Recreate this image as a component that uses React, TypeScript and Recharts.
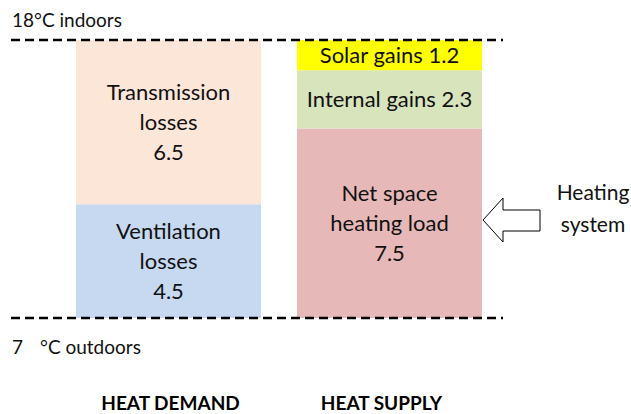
import React from 'react';
import { BarChart, Bar, XAxis, YAxis, ReferenceLine, LabelList } from 'recharts';

const categories = ['HEAT DEMAND', 'HEAT SUPPLY'];
const ventilationLosses = [4.5, 0];
const transmissionLosses = [6.5, 0];
const netHeatingLoad = [0, 7.5];
const internalGains = [0, 2.3];
const solarGains = [0, 1.2];

const data = categories.map((name, i) => ({
  name,
  ventilation: ventilationLosses[i],
  transmission: transmissionLosses[i],
  net: netHeatingLoad[i],
  internal: internalGains[i],
  solar: solarGains[i],
}));

const FONT = 'Lato, "Open Sans", sans-serif';

// multi-line label centred in a stacked segment, last line holds the value
const segmentLabel = (lines: string[], inline = false) => (props: any) => {
  const { x, y, width, height, value } = props;
  if (!value) return null;
  const all = inline ? [`${lines[0]} ${value}`] : [...lines, String(value)];
  const lh = 30;
  const cx = x + width / 2;
  const cy = y + height / 2;
  const start = cy - ((all.length - 1) * lh) / 2;
  return (
    <text x={cx} y={start} textAnchor="middle" fontFamily={FONT} fontSize={22} fill="#111">
      {all.map((l, i) => (
        <tspan key={i} x={cx} y={start + i * lh} dy="0.35em">
          {l}
        </tspan>
      ))}
    </text>
  );
};

const dashedLine = (props: any) => (
  <line
    x1={props.x1}
    y1={props.y1}
    x2={props.x2}
    y2={props.y2}
    stroke="#000"
    strokeWidth={2.5}
    strokeDasharray="9 5"
  />
);

const renderTick = (props: any) => {
  const { x, y, payload, index } = props;
  const nudge = index === 0 ? 2 : -8;
  return (
    <text x={x + nudge} y={y + 92} textAnchor="middle" fontFamily={FONT} fontWeight="bold" fontSize={19} fill="#000">
      {payload.value}
    </text>
  );
};

export default function App() {
  return (
    <div style={{ position: 'absolute', left: 0, top: 0, background: '#fff' }}>
      <BarChart
        width={631}
        height={414}
        data={data}
        margin={{ top: 40, right: 128, left: 11, bottom: 0 }}
        barSize={185}
      >
        <XAxis
          dataKey="name"
          height={96}
          axisLine={false}
          tickLine={false}
          tickSize={0}
          tickMargin={0}
          padding={{ left: 47, right: 3 }}
          tick={renderTick}
        />
        <YAxis hide domain={[0, 11]} />
        <Bar dataKey="ventilation" stackId="a" fill="#C6D9F1" isAnimationActive={false}>
          <LabelList dataKey="ventilation" content={segmentLabel(['Ventilation', 'losses'])} />
        </Bar>
        <Bar dataKey="transmission" stackId="a" fill="#FCE6D8" isAnimationActive={false}>
          <LabelList dataKey="transmission" content={segmentLabel(['Transmission', 'losses'])} />
        </Bar>
        <Bar dataKey="net" stackId="a" fill="#E6B8B7" isAnimationActive={false}>
          <LabelList dataKey="net" content={segmentLabel(['Net space', 'heating load'])} />
        </Bar>
        <Bar dataKey="internal" stackId="a" fill="#D8E4BC" isAnimationActive={false}>
          <LabelList dataKey="internal" content={segmentLabel(['Internal gains'], true)} />
        </Bar>
        <Bar dataKey="solar" stackId="a" fill="#FFFF00" isAnimationActive={false}>
          <LabelList dataKey="solar" content={segmentLabel(['Solar gains'], true)} />
        </Bar>
        <ReferenceLine
          y={11}
          shape={dashedLine}
          label={(p: any) => (
            <text x={p.viewBox.x + 1} y={p.viewBox.y - 13} fontFamily={FONT} fontSize={19} fill="#111">
              18°C indoors
            </text>
          )}
        />
        <ReferenceLine
          y={0}
          shape={dashedLine}
          label={(p: any) => (
            <g fontFamily={FONT} fontSize={19} fill="#111">
              <text x={p.viewBox.x + 1} y={p.viewBox.y + 36}>7</text>
              <text x={p.viewBox.x + 29} y={p.viewBox.y + 36}>°C outdoors</text>
            </g>
          )}
        />
        <g>
          <polygon
            points="483,220 503,198 503,210 540,210 540,231 503,231 503,242"
            fill="#fff"
            stroke="#000"
            strokeWidth={1}
          />
          <text x={593} textAnchor="middle" fontFamily={FONT} fontSize={21} fill="#111">
            <tspan x={593} y={200}>Heating</tspan>
            <tspan x={593} y={232}>system</tspan>
          </text>
        </g>
      </BarChart>
    </div>
  );
}
